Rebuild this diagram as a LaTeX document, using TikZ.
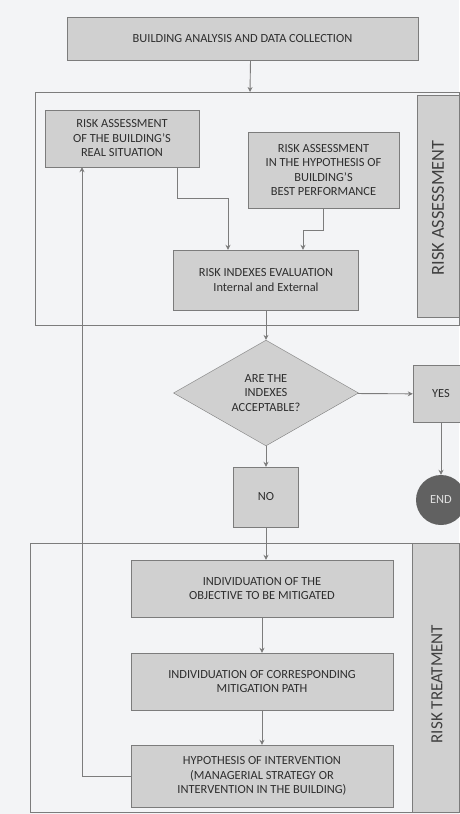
\documentclass[tikz,border=0pt]{standalone}
\usepackage{fontspec}
\setmainfont{Carlito}
\usetikzlibrary{arrows.meta,shapes.geometric}
\definecolor{paper}{HTML}{F3F4F6}
\definecolor{boxgray}{HTML}{D0D0D0}
\definecolor{linegray}{HTML}{7C7C7C}
\begin{document}
\begin{tikzpicture}[x=1pt,y=-1pt,
  box/.style={draw=linegray,fill=boxgray,align=center,inner sep=2pt,text=black!82,font=\fontsize{12.4}{14.5}\selectfont},
  arr/.style={draw=linegray,line width=0.9pt,-{Stealth[length=5pt,width=5pt]}},
  frameline/.style={draw=linegray,line width=0.8pt},
  sidestrip/.style={fill=boxgray,draw=linegray,line width=0.6pt},
  sidelabel/.style={rotate=90,font=\fontsize{17}{20}\selectfont,text=black!75}]
\fill[paper] (0,0) rectangle (459,814);
\useasboundingbox (0,0) rectangle (459,814);
% frames
\draw[frameline] (35,92) rectangle (459,325);
\draw[sidestrip] (417,95) rectangle (459,317);
\node[sidelabel,font=\fontsize{18.3}{20}\selectfont] (labA) at (438,208) {RISK ASSESSMENT};
\draw[frameline] (30,543) rectangle (459,812);
\draw[sidestrip] (412,543) rectangle (459,812);
\node[sidelabel] (labT) at (437,684) {RISK TREATMENT};
\coordinate (fatop) at (250,92);
% boxes
\node[box,minimum width=351pt,minimum height=43pt] (top) at (242.5,38.5) {BUILDING ANALYSIS AND DATA COLLECTION};
\node[box,minimum width=154pt,minimum height=57pt] (real) at (122,138.5) {RISK ASSESSMENT\\OF THE BUILDING'S\\REAL SITUATION};
\node[box,minimum width=151pt,minimum height=76pt] (best) at (323.5,170) {RISK ASSESSMENT\\IN THE HYPOTHESIS OF\\BUILDING'S\\BEST PERFORMANCE};
\node[box,minimum width=185pt,minimum height=60pt] (eval) at (266,280) {RISK INDEXES EVALUATION\\Internal and External};
\node[box,shape=diamond,inner sep=0pt,minimum width=185pt,minimum height=94pt] (acc) at (266,393) {ARE THE\\INDEXES\\ACCEPTABLE?};
\node[box,minimum width=56pt,minimum height=57pt] (yes) at (441,394) {YES};
\node[box,circle,draw=none,fill=black!62,text=black!12,minimum size=50pt] (end) at (441,500) {END};
\node[box,minimum width=65pt,minimum height=60pt] (no) at (266,497) {NO};
\node[box,minimum width=262pt,minimum height=57pt] (obj) at (262,588.5) {INDIVIDUATION OF THE\\OBJECTIVE TO BE MITIGATED};
\node[box,minimum width=262pt,minimum height=57pt] (path) at (262,681.5) {INDIVIDUATION OF CORRESPONDING\\MITIGATION PATH};
\node[box,minimum width=262pt,minimum height=62pt] (hyp) at (262,776) {HYPOTHESIS OF INTERVENTION\\(MANAGERIAL STRATEGY OR\\INTERVENTION IN THE BUILDING)};
% connectors
\draw[arr] ([xshift=8pt]top.south) -- (fatop);
\draw[arr] ([xshift=55pt]real.south) -- ++(0,31) -| ([xshift=-38pt]eval.north);
\draw[arr] (best.south) -- ++(0,22) -| ([xshift=37pt]eval.north);
\draw[arr] (eval) -- (acc);
\draw[arr] (acc) -- (yes);
\draw[arr] (yes) -- (end);
\draw[arr] (acc) -- (no);
\draw[arr] (no.south) -- (no.south |- obj.north);
\draw[arr] (obj) -- (path);
\draw[arr] (path) -- (hyp);
\draw[arr] (hyp.west) -| ([xshift=-40pt]real.south);
\end{tikzpicture}
\end{document}
